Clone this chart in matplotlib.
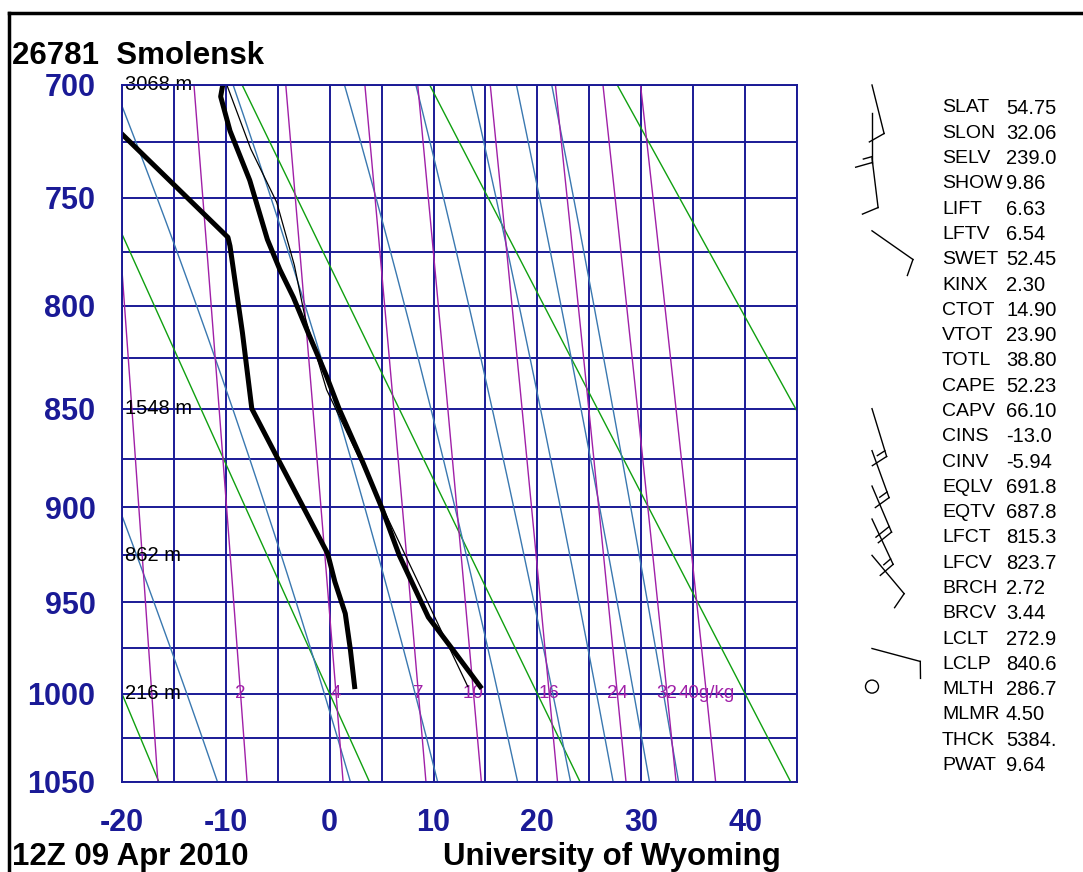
import numpy as np
import matplotlib.pyplot as plt
from matplotlib.lines import Line2D
from matplotlib.patches import Circle
from matplotlib.transforms import IdentityTransform

plt.rcParams['font.family'] = ['Liberation Sans', 'DejaVu Sans']
plt.rcParams['axes.unicode_minus'] = False

KAPPA = 0.286

# --- sounding (hPa, degC) ---
station = '26781  Smolensk'
obs_time = '12Z 09 Apr 2010'
credit = 'University of Wyoming'

temp_p = [996, 976, 958, 925, 900, 877, 850, 834, 815, 796, 783, 769, 742, 720, 705, 700]
temp_c = [14.5, 11.9, 9.5, 6.7, 5.0, 3.2, 0.9, -0.3, -1.9, -3.5, -4.8, -6.0, -7.7, -9.6, -10.5, -10.3]

dew_p = [996, 976, 956, 939, 924, 874, 850, 813, 772, 768, 721, 700]
dew_c = [2.4, 2.0, 1.5, 0.5, -0.2, -5.1, -7.5, -8.4, -9.6, -9.8, -20.1, -24.6]

parcel_p = [996, 840.6, 805, 781, 752, 728, 700]
parcel_c = [13.3, -0.3, -2.4, -3.4, -5.1, -7.6, -9.9]

height_p = [700, 850, 925, 1000]
height_lab = ['3068 m', '1548 m', '862 m', '216 m']

# winds: pressure, direction (deg), speed (kt)
wind_p = [700, 712, 732, 765, 850, 871, 889, 906, 925, 975, 996]
wind_dir = [166, 180, 173, 125, 163, 160, 157, 155, 140, 105, 0]
wind_kt = [10, 15, 10, 10, 15, 15, 20, 15, 10, 10, 0]

# background lines of the diagram
dry_theta = [253.15, 273.15, 293.15, 313.15, 333.15]
moist_t1050 = [-10.8, 2.0, 10.4, 18.1, 23.2, 27.3, 30.8, 33.6]
mix_ratio = [1, 2, 4, 7, 10, 16, 24, 32, 40]
mix_label = ['', '2', '4', '7', '10', '16', '24', '32', '40g/kg']

index_names = ['SLAT', 'SLON', 'SELV', 'SHOW', 'LIFT', 'LFTV', 'SWET', 'KINX', 'CTOT',
               'VTOT', 'TOTL', 'CAPE', 'CAPV', 'CINS', 'CINV', 'EQLV', 'EQTV', 'LFCT',
               'LFCV', 'BRCH', 'BRCV', 'LCLT', 'LCLP', 'MLTH', 'MLMR', 'THCK', 'PWAT']
index_vals = ['54.75', '32.06', '239.0', '9.86', '6.63', '6.54', '52.45', '2.30', '14.90',
              '23.90', '38.80', '52.23', '66.10', '-13.0', '-5.94', '691.8', '687.8', '815.3',
              '823.7', '2.72', '3.44', '272.9', '840.6', '286.7', '4.50', '5384.', '9.64']

NAVY = '#1a1a96'
GREEN = '#10a010'
BLUE = '#3a78b0'
MAGENTA = '#a020a8'


def sat_mr(T, p):
    es = 6.112 * np.exp(17.67 * (T - 273.15) / (T - 29.65))
    return 0.622 * es / (p - es)


def dTdp(T, p):
    ws = sat_mr(T, p)
    return (287.04 * T + 2.501e6 * ws) / (1005.7 + 2.501e6 ** 2 * ws * 0.622 / (287.04 * T ** 2)) / p


def moist_curves(t_start, p0=1050.0, p1=700.0, dp=-1.0):
    T = np.array(t_start, dtype=float) + 273.15
    ps, Ts = [p0], [T.copy()]
    p = p0
    for _ in range(int(round((p1 - p0) / dp))):
        k1 = dTdp(T, p)
        k2 = dTdp(T + k1 * dp / 2, p + dp / 2)
        k3 = dTdp(T + k2 * dp / 2, p + dp / 2)
        k4 = dTdp(T + k3 * dp, p + dp)
        T = T + dp / 6 * (k1 + 2 * k2 + 2 * k3 + k4)
        p += dp
        ps.append(p)
        Ts.append(T.copy())
    return np.array(ps), np.array(Ts) - 273.15


W, H = 1083, 872
fig = plt.figure(figsize=(W / 100, H / 100), dpi=100)


def fx(px):
    return px / W


def fy(py):
    return 1 - py / H


fwd = lambda p: np.power(np.abs(p), KAPPA)
inv = lambda y: np.power(np.abs(y), 1 / KAPPA)

ax = fig.add_axes([fx(122), fy(782), fx(797) - fx(122), fy(85) - fy(782)])
ax.set_yscale('function', functions=(fwd, inv))
ax.set_xlim(-20, 45)
ax.set_ylim(1050, 700)

# grid
for t in range(-20, 46, 5):
    ax.axvline(t, color=NAVY, lw=1.4, zorder=2)
for p in range(700, 1051, 25):
    ax.axhline(p, color=NAVY, lw=1.4, zorder=2)

pp = np.linspace(700, 1050, 200)

# dry adiabats
for th in dry_theta:
    ax.plot(th * (pp / 1000.0) ** KAPPA - 273.15, pp, color=GREEN, lw=1.0, zorder=3)

# moist adiabats
pm, tm = moist_curves(moist_t1050)
for i in range(len(moist_t1050)):
    ax.plot(tm[:, i], pm, color=BLUE, lw=1.0, zorder=3)

# mixing ratio lines
for w, lab in zip(mix_ratio, mix_label):
    e = w * pp / (622.0 + w)
    ln = np.log(e / 6.112)
    ax.plot(243.5 * ln / (17.67 - ln), pp, color=MAGENTA, lw=1.0, zorder=3)
    if lab:
        l0 = np.log(w * 1000.0 / (622.0 + w) / 6.112)
        ax.text(243.5 * l0 / (17.67 - l0), 1000, lab, color=MAGENTA, fontsize=13.5,
                ha='center', va='center', zorder=4)

# heights
for p, lab in zip(height_p, height_lab):
    ax.text(-19.7, p, lab, fontsize=14.5, ha='left', va='center', color='black', zorder=4)

# sounding
ax.plot(parcel_c, parcel_p, color='black', lw=0.9, zorder=5)
ax.plot(temp_c, temp_p, color='black', lw=3.6, zorder=6, solid_joinstyle='round')
ax.plot(dew_c, dew_p, color='black', lw=3.6, zorder=6, solid_joinstyle='round')

for s in ax.spines.values():
    s.set_color(NAVY)
    s.set_linewidth(1.4)
    s.set_zorder(7)

ax.set_xticks(range(-20, 41, 10))
ax.set_yticks(range(700, 1051, 50))
ax.yaxis.set_minor_locator(plt.NullLocator())
ax.set_yticklabels([str(v) for v in range(700, 1051, 50)])
ax.tick_params(length=0, colors=NAVY, labelsize=22)
ax.tick_params(axis='y', pad=19)
ax.tick_params(axis='x', pad=19)
for lab in ax.get_xticklabels() + ax.get_yticklabels():
    lab.set_fontweight('bold')

# wind barbs, drawn in pixels from the station point on the pressure scale
ident = IdentityTransform()
for p, dr, s in zip(wind_p, wind_dir, wind_kt):
    y0 = ax.transData.transform((0, p))[1]
    x0 = 872.0
    if s == 0:
        fig.add_artist(Circle((x0, y0), 6.5, transform=ident, fill=False,
                              edgecolor='black', lw=1.0))
        continue
    a = np.radians(dr)
    d = np.array([np.sin(a), np.cos(a)])
    n = np.array([d[1], -d[0]])
    tip = np.array([x0, y0]) + 50 * d
    fig.add_artist(Line2D([x0, tip[0]], [y0, tip[1]], color='black', lw=1.0, transform=ident))
    pos = tip.copy()
    left = s
    while left >= 10:
        end = pos + 17 * (0.96 * n + 0.27 * d)
        fig.add_artist(Line2D([pos[0], end[0]], [pos[1], end[1]], color='black', lw=1.0,
                              transform=ident))
        pos = pos - 6 * d
        left -= 10
    if left >= 5:
        end = pos + 9 * (0.96 * n + 0.27 * d)
        fig.add_artist(Line2D([pos[0], end[0]], [pos[1], end[1]], color='black', lw=1.0,
                              transform=ident))

# text
fig.text(fx(12), fy(56), station, fontsize=22.5, fontweight='bold', va='center', ha='left')
fig.text(fx(12), fy(857), obs_time, fontsize=22.5, fontweight='bold', va='center', ha='left')
fig.text(fx(443), fy(857), credit, fontsize=22.5, fontweight='bold', va='center', ha='left')

for i, (n_, val) in enumerate(zip(index_names, index_vals)):
    y = 108 + 25.29 * i
    fig.text(fx(942), fy(y), n_, fontsize=14, va='center', ha='left')
    fig.text(fx(1006), fy(y), val, fontsize=14.5, va='center', ha='left')

# frame
fig.add_artist(Line2D([fx(9), 1.0], [fy(13), fy(13)], color='black', lw=2.5,
                      transform=fig.transFigure))
fig.add_artist(Line2D([fx(9), fx(9)], [fy(13), 0.0], color='black', lw=2.5,
                      transform=fig.transFigure))

fig.savefig('out.png', dpi=100)
